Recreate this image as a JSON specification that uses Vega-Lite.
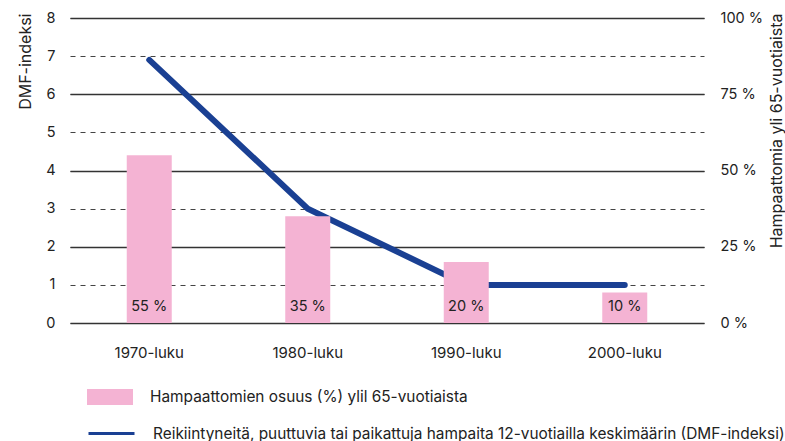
{
  "$schema": "https://vega.github.io/schema/vega-lite/v6.json",
  "width": 634,
  "height": 305,
  "autosize": {"type": "none"},
  "padding": {"left": 70, "top": 18, "right": 81, "bottom": 118},
  "background": "white",
  "config": {
    "view": {"stroke": null},
    "font": "Inter",
    "axis": {"labelFont": "Inter", "titleFont": "Inter", "labelColor": "#222", "titleColor": "#222", "labelFontSize": 14.5, "titleFontSize": 16, "titleFontWeight": "normal", "domain": false, "ticks": false},
    "legend": {"labelFont": "Inter", "labelFontSize": 15.4, "labelColor": "#222", "padding": 0}
  },
  "data": {
    "values": [
      {"decade": "1970-luku", "pct": 55, "dmf": 6.9, "label": "55 %"},
      {"decade": "1980-luku", "pct": 35, "dmf": 3.0, "label": "35 %"},
      {"decade": "1990-luku", "pct": 20, "dmf": 1.0, "label": "20 %"},
      {"decade": "2000-luku", "pct": 10, "dmf": 1.0, "label": "10 %"}
    ]
  },
  "layer": [
    {
      "mark": {"type": "line", "strokeWidth": 6, "strokeCap": "round", "strokeJoin": "miter"},
      "encoding": {
        "x": {"field": "decade", "type": "nominal", "sort": null, "title": null,
              "scale": {"paddingInner": 0.72, "paddingOuter": 0.36},
              "axis": {"labelAngle": 0, "labelPadding": 22, "grid": false, "labelFontSize": 15}},
        "y": {"field": "dmf", "type": "quantitative", "title": "DMF-indeksi",
              "scale": {"domain": [0, 8], "nice": false},
              "axis": {"orient": "left", "values": [0,1,2,3,4,5,6,7,8], "grid": true,
                       "gridColor": "#444", "gridWidth": 1.2, "gridDash": [5, 5],
                       "labelPadding": 15, "titlePadding": 12,
                       "titleAlign": "right", "titleY": -5}},
        "stroke": {"datum": "Reikiintyneitä, puuttuvia tai paikattuja hampaita 12-vuotiailla keskimäärin (DMF-indeksi)",
                   "scale": {"range": ["#1a4093"]},
                   "legend": {"title": null, "orient": "none", "legendX": 17, "legendY": 391,
                              "symbolType": "stroke", "symbolSize": 2116, "symbolStrokeWidth": 3, "labelOffset": 17, "labelLimit": 800}}
      }
    },
    {
      "layer": [
        {
          "mark": {"type": "bar", "size": 45},
          "encoding": {
            "x": {"field": "decade", "type": "nominal", "sort": null},
            "y": {"field": "pct", "type": "quantitative", "title": "Hampaattomia yli 65-vuotiaista",
                  "scale": {"domain": [0, 100], "nice": false},
                  "axis": {"orient": "right", "values": [0, 25, 50, 75, 100], "grid": true,
                           "gridColor": "#333", "gridWidth": 1.3, "gridDash": [],
                           "labelExpr": "datum.value + ' %'", "labelPadding": 16, "titlePadding": 6,
                           "titleAngle": 270, "titleBaseline": "top", "titleAlign": "right", "titleY": -5}},
            "fill": {"datum": "Hampaattomien osuus (%) ylil 65-vuotiaista",
                     "scale": {"range": ["#f4b3d3"]},
                     "legend": {"title": null, "orient": "none", "legendX": 17, "legendY": 356,
                                "symbolType": "M-1,-0.35H1V0.35H-1Z", "symbolSize": 2116, "symbolStrokeWidth": 0, "labelOffset": 17, "labelLimit": 800}}
          }
        },
        {
          "mark": {"type": "text", "dy": -16, "fontSize": 14.5, "color": "#222", "font": "Inter"},
          "encoding": {
            "x": {"field": "decade", "type": "nominal", "sort": null},
            "y": {"datum": 0, "type": "quantitative"},
            "text": {"field": "label"}
          }
        }
      ]
    }
  ],
  "resolve": {"scale": {"y": "independent"}}
}
